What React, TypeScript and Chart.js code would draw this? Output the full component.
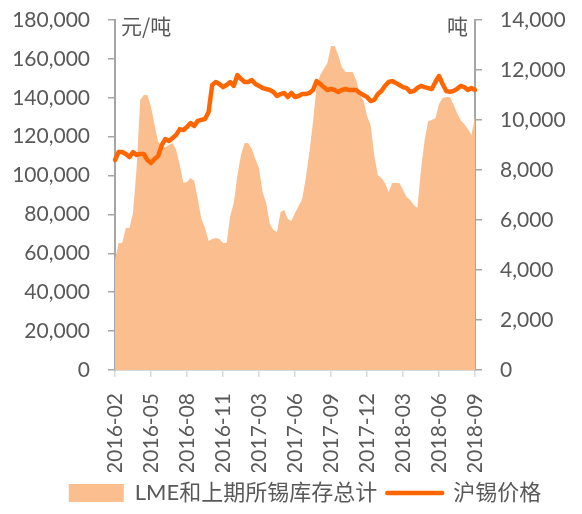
import React, { useEffect, useRef } from 'react';
import { Chart, registerables } from 'chart.js';

Chart.register(...registerables);

// ---------- data ----------
const tickLabels = [
  '2016-02', '2016-05', '2016-08', '2016-11', '2017-03', '2017-06',
  '2017-09', '2017-12', '2018-03', '2018-06', '2018-09',
];
const pointsPerTick = 10;

const stockSeriesName = 'LME和上期所锡库存总计';
const priceSeriesName = '沪锡价格';
const leftUnit = '元/吨';
const rightUnit = '吨';

// LME + SHFE tin stocks (tonnes), right axis
const stockTons = [
  4400, 5080, 5080, 5680, 5680, 6280, 8080, 10800, 11000, 11000,
  10520, 9800, 9120, 8960, 8920, 9000, 9080, 8800, 8200, 7480,
  7520, 7680, 7560, 6840, 6040, 5680, 5160, 5240, 5280, 5240,
  5080, 5080, 6160, 6680, 7800, 8600, 9080, 9080, 8840, 8440,
  8080, 7120, 6680, 5840, 5600, 5520, 6320, 6400, 6040, 5960,
  6280, 6560, 6840, 7680, 8720, 9920, 11360, 11800, 12040, 12280,
  12960, 12960, 12600, 12120, 11920, 11920, 11920, 11600, 11000, 10800,
  10160, 9800, 8600, 7800, 7680, 7480, 7120, 7480, 7480, 7480,
  7200, 6920, 6800, 6600, 6480, 8000, 9200, 9960, 10000, 10080,
  10640, 10880, 10920, 10920, 10640, 10280, 10000, 9840, 9640, 9400,
  10120,
];

// SHFE tin price (yuan/tonne), left axis
const priceYuan = [
  108000, 112100, 112100, 111100, 109500, 112100, 110600, 111100, 111100, 108000,
  106500, 108500, 110100, 115700, 118800, 117800, 119300, 120900, 123900, 123400,
  125000, 127000, 125500, 128100, 128600, 129100, 132700, 146600, 148100, 147100,
  145500, 146600, 148100, 146100, 151700, 149700, 148100, 148100, 149100, 147100,
  146100, 145000, 144500, 144000, 143000, 140900, 141900, 142500, 140400, 142500,
  140400, 140900, 141900, 141900, 142500, 144000, 148600, 147100, 145500, 144000,
  144500, 144000, 143000, 144000, 144500, 144000, 144000, 144000, 142500, 141400,
  140400, 138300, 138900, 141900, 143500, 146100, 148100, 148600, 147600, 146600,
  145500, 145000, 143000, 143500, 145000, 146100, 145500, 145000, 144500, 148100,
  151200, 147100, 143500, 143000, 143500, 144500, 146100, 145500, 144000, 145000,
  144000,
];

const leftAxis = [0, 180000, 20000];
const rightAxis = [0, 14000, 2000];

// ---------- styles ----------
const AREA = '#FBBF8F';
const LINE = '#FF6600';
const TEXT = '#595959';
const AXIS = '#A6A6A6';
const XAXIS = '#D9D9D9';
const FONT = 'Lato, "Noto Sans CJK SC", sans-serif';
const CJK = '"Noto Sans CJK SC", Lato, sans-serif';

const unitPlugin = {
  id: 'unitLabels',
  afterDraw(chart: any) {
    const { ctx, chartArea } = chart;
    ctx.save();
    ctx.font = `21px ${CJK}`;
    ctx.fillStyle = TEXT;
    ctx.textBaseline = 'middle';
    ctx.textAlign = 'left';
    ctx.fillText(leftUnit, chartArea.left + 6, chartArea.top + 6);
    ctx.textAlign = 'right';
    ctx.fillText(rightUnit, chartArea.right - 7, chartArea.top + 6);
    ctx.restore();
  },
};

export default function App() {
  const ref = useRef<HTMLCanvasElement | null>(null);

  useEffect(() => {
    if (!ref.current) return;
    const labels = stockTons.map((_, i) =>
      i % pointsPerTick === 0 ? tickLabels[i / pointsPerTick] : ''
    );
    const chart = new Chart(ref.current, {
      type: 'line',
      data: {
        labels,
        datasets: [
          {
            label: stockSeriesName,
            data: stockTons,
            yAxisID: 'y1',
            fill: 'origin',
            backgroundColor: AREA,
            borderColor: AREA,
            borderWidth: 0,
            pointRadius: 0,
            tension: 0,
            order: 1,
          },
          {
            label: priceSeriesName,
            data: priceYuan,
            yAxisID: 'y',
            fill: false,
            backgroundColor: LINE,
            borderColor: LINE,
            borderWidth: 4.5,
            pointRadius: 0,
            tension: 0,
            borderJoinStyle: 'round',
            borderCapStyle: 'round',
            order: 0,
          },
        ],
      },
      options: {
        responsive: false,
        animation: false,
        events: [],
        layout: { padding: { left: 0, right: 0, top: 20, bottom: 0 } },
        plugins: {
          tooltip: { enabled: false },
          legend: {
            position: 'bottom',
            labels: {
              usePointStyle: true,
              pointStyleWidth: 55,
              boxHeight: 18,
              padding: 10,
              color: TEXT,
              font: { size: 22, family: FONT },
              sort: (a: any, b: any) => a.datasetIndex - b.datasetIndex,
              generateLabels: (chart: any) => {
                const items = (Chart.defaults.plugins.legend.labels as any).generateLabels(chart);
                return items.map((it: any) =>
                  it.datasetIndex === 0
                    ? { ...it, pointStyle: 'rect', fillStyle: AREA, strokeStyle: AREA, lineWidth: 0 }
                    : { ...it, pointStyle: 'line', fillStyle: LINE, strokeStyle: LINE, lineWidth: 4.5, lineCap: 'round' }
                );
              },
            },
          },
        },
        scales: {
          x: {
            type: 'category',
            offset: false,
            grid: { display: true, drawOnChartArea: false, drawTicks: true, tickLength: 7, color: XAXIS, lineWidth: 1.5 },
            border: { display: true, color: XAXIS, width: 2 },
            ticks: {
              autoSkip: false,
              maxRotation: 90,
              minRotation: 90,
              padding: 16,
              color: TEXT,
              font: { size: 21, family: FONT },
            },
            afterBuildTicks: (s: any) => {
              s.ticks = s.ticks.filter((t: any) => t.value % pointsPerTick === 0);
            },
            afterFit: (s: any) => {
              s.height = 102;
            },
          },
          y: {
            position: 'left',
            min: leftAxis[0],
            max: leftAxis[1],
            grid: { drawOnChartArea: false, drawTicks: true, tickLength: 7, color: AXIS, lineWidth: 1.5 },
            border: { display: true, color: AXIS, width: 2 },
            ticks: {
              stepSize: leftAxis[2],
              padding: 18,
              color: TEXT,
              font: { size: 21, family: FONT },
              callback: (v: any) => Number(v).toLocaleString('en-US'),
            },
            afterFit: (s: any) => {
              s.width = 115;
              s.paddingTop = 0;
              s.paddingBottom = 0;
            },
          },
          y1: {
            position: 'right',
            min: rightAxis[0],
            max: rightAxis[1],
            grid: { drawOnChartArea: false, drawTicks: true, tickLength: 7, color: AXIS, lineWidth: 1.5 },
            border: { display: true, color: AXIS, width: 2 },
            ticks: {
              stepSize: rightAxis[2],
              padding: 18,
              color: TEXT,
              font: { size: 21, family: FONT },
              callback: (v: any) => Number(v).toLocaleString('en-US'),
            },
            afterFit: (s: any) => {
              s.width = 135;
              s.paddingTop = 0;
              s.paddingBottom = 0;
            },
          },
        },
      } as any,
      plugins: [unitPlugin],
    });
    return () => chart.destroy();
  }, []);

  return (
    <div style={{ position: 'absolute', left: 0, top: 0, width: 582, height: 514, overflow: 'hidden' }}>
      <canvas ref={ref} width={610} height={514} />
    </div>
  );
}
